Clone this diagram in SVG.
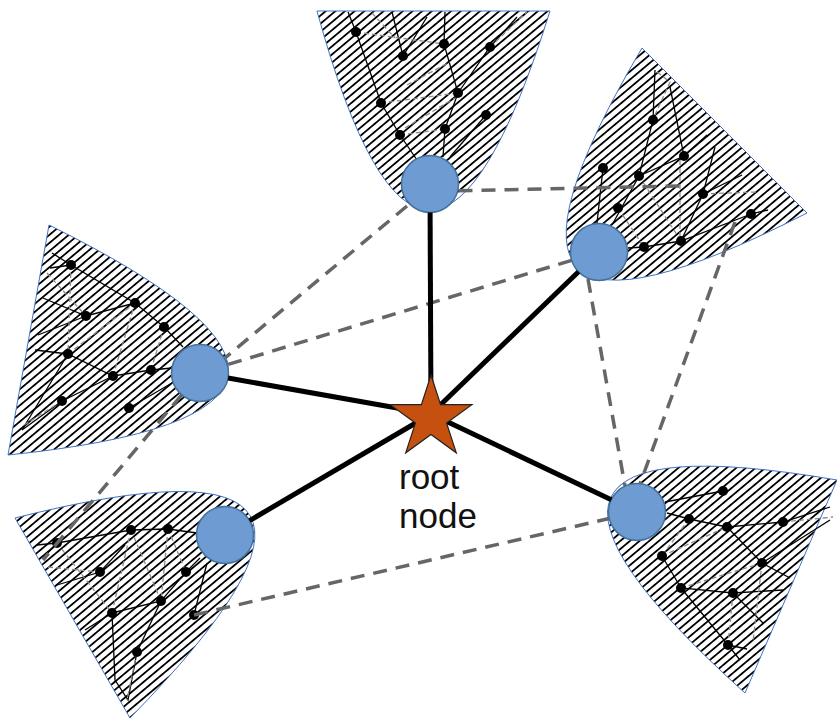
<svg xmlns="http://www.w3.org/2000/svg" width="837" height="720" viewBox="0 0 837 720">
<style>
.petal{fill:url(#hatch);stroke:#4472C4;stroke-width:1}
.ln{fill:none;stroke:#000;stroke-width:1.3}
.gd{fill:none;stroke:#8a8a8a;stroke-width:1.3;stroke-dasharray:5 3}
.dot{fill:#000}
.hub{fill:#6E9BD2;stroke:#41719C;stroke-width:1.5}
.spoke{stroke:#000;stroke-width:5;fill:none}
.link{stroke:#666;stroke-width:3.5;stroke-dasharray:14 9;fill:none}
.lbl{font-family:"Liberation Sans",Arial,sans-serif;font-size:35px;fill:#111}
</style>
<defs>
<pattern id="hatch" patternUnits="userSpaceOnUse" width="10" height="6.2" patternTransform="rotate(-40)">
<rect x="0" y="0" width="10" height="1.8" fill="#000"/>
</pattern>
</defs>

<g id="cluster-top">
<path class="petal" d="M317,11 Q426,409 550,11 Z"/>
<polyline class="ln" points="348,12 356,32 381,103 400,135 417,160"/>
<polyline class="ln" points="392,12 403,56 427,17"/>
<polyline class="ln" points="445,12 444,44 458,93 445,129 443,157"/>
<polyline class="ln" points="517,17 490,47 458,93"/>
<polyline class="ln" points="486,115 450,157"/>
<polyline class="gd" points="356,32 444,44"/>
<polyline class="gd" points="372,13 395,38"/>
<polyline class="gd" points="407,85 450,62"/>
<polyline class="gd" points="381,103 458,93"/>
<polyline class="gd" points="400,135 445,129"/>
<polyline class="gd" points="405,128 455,98"/>
<polyline class="gd" points="490,47 527,12"/>
<g class="dot"><circle cx="356" cy="32" r="5"/><circle cx="403" cy="56" r="5"/><circle cx="444" cy="44" r="5"/><circle cx="490" cy="47" r="5"/><circle cx="381" cy="103" r="5"/><circle cx="458" cy="93" r="5"/><circle cx="486" cy="115" r="5"/><circle cx="400" cy="135" r="5"/><circle cx="445" cy="129" r="5"/></g>
<circle class="hub" cx="430" cy="184" r="28.5"/>
</g>

<g id="cluster-right">
<path class="petal" d="M642,48 Q431,405 807,213 Z"/>
<polyline class="ln" points="655,70 653,120 639,176 612,225"/>
<polyline class="ln" points="670,87 684,156 639,176"/>
<polyline class="ln" points="684,156 707,135"/>
<polyline class="ln" points="603,168 597,223"/>
<polyline class="ln" points="715,147 703,194 742,175"/>
<polyline class="ln" points="703,194 681,241"/>
<polyline class="ln" points="760,204 751,214 768,210"/>
<polyline class="ln" points="751,214 681,241 644,247 628,248"/>
<polyline class="gd" points="657,72 670,82 655,115"/>
<polyline class="gd" points="618,208 644,247"/>
<polyline class="gd" points="639,176 681,241"/>
<polyline class="gd" points="680,160 680,240"/>
<polyline class="gd" points="703,194 757,192"/>
<g class="dot"><circle cx="653" cy="120" r="5"/><circle cx="684" cy="156" r="5"/><circle cx="603" cy="168" r="5"/><circle cx="639" cy="176" r="5"/><circle cx="703" cy="194" r="5"/><circle cx="618" cy="208" r="5"/><circle cx="751" cy="214" r="5"/><circle cx="644" cy="247" r="5"/><circle cx="681" cy="241" r="5"/></g>
<circle class="hub" cx="599" cy="252" r="28.5"/>
</g>

<g id="cluster-left">
<path class="petal" d="M49,225 Q427,412 8,455 Z"/>
<polyline class="ln" points="52,253 71,265 135,303 164,327 183,347"/>
<polyline class="ln" points="50,268 71,265"/>
<polyline class="ln" points="43,298 86,316 135,303"/>
<polyline class="ln" points="38,335 86,316"/>
<polyline class="ln" points="35,350 68,354 113,376 151,370 172,368"/>
<polyline class="ln" points="68,354 22,430 62,401 113,376"/>
<polyline class="ln" points="129,408 172,383"/>
<polyline class="gd" points="71,265 68,354"/>
<polyline class="gd" points="47,273 86,316"/>
<polyline class="gd" points="68,354 135,303"/>
<polyline class="gd" points="113,376 135,303"/>
<polyline class="gd" points="151,370 164,327"/>
<polyline class="gd" points="62,401 24,425"/>
<g class="dot"><circle cx="71" cy="265" r="5"/><circle cx="135" cy="303" r="5"/><circle cx="86" cy="316" r="5"/><circle cx="164" cy="327" r="5"/><circle cx="68" cy="354" r="5"/><circle cx="151" cy="370" r="5"/><circle cx="113" cy="376" r="5"/><circle cx="62" cy="401" r="5"/><circle cx="129" cy="408" r="5"/></g>
<circle class="hub" cx="200" cy="373" r="28.5"/>
</g>

<g id="cluster-bottom-left">
<path class="petal" d="M15,518 Q428,414 130,718 Z"/>
<polyline class="ln" points="37,545 57,543 131,530 168,529 197,533"/>
<polyline class="ln" points="57,543 43,558"/>
<polyline class="ln" points="57,585 100,572 125,545"/>
<polyline class="ln" points="112,613 161,601 186,572 200,558"/>
<polyline class="ln" points="112,613 85,630"/>
<polyline class="ln" points="137,652 128,700 115,680 112,613"/>
<polyline class="ln" points="161,601 137,652"/>
<polyline class="ln" points="194,615 207,563"/>
<polyline class="gd" points="57,543 112,613"/>
<polyline class="gd" points="48,567 100,572"/>
<polyline class="gd" points="131,530 112,613"/>
<polyline class="gd" points="131,530 161,601"/>
<polyline class="gd" points="168,529 161,601"/>
<polyline class="gd" points="168,529 186,572"/>
<polyline class="gd" points="137,652 127,700"/>
<g class="dot"><circle cx="57" cy="543" r="5"/><circle cx="131" cy="530" r="5"/><circle cx="168" cy="529" r="5"/><circle cx="100" cy="572" r="5"/><circle cx="186" cy="572" r="5"/><circle cx="161" cy="601" r="5"/><circle cx="112" cy="613" r="5"/><circle cx="194" cy="615" r="5"/><circle cx="137" cy="652" r="5"/></g>
<circle class="hub" cx="225" cy="535" r="28.5"/>
</g>

<g id="cluster-bottom-right">
<path class="petal" d="M837,480 Q430,410 745,693 Z"/>
<polyline class="ln" points="665,502 723,491"/>
<polyline class="ln" points="667,513 689,519 727,527 783,522 830,507"/>
<polyline class="ln" points="727,527 762,563 790,578"/>
<polyline class="ln" points="762,563 830,520"/>
<polyline class="ln" points="662,556 681,588 733,593 783,590"/>
<polyline class="ln" points="681,588 728,645 740,660"/>
<polyline class="ln" points="733,593 763,623"/>
<polyline class="ln" points="728,645 747,649"/>
<polyline class="gd" points="689,519 662,556"/>
<polyline class="gd" points="662,556 727,527"/>
<polyline class="gd" points="681,588 762,563"/>
<polyline class="gd" points="733,593 728,645"/>
<polyline class="gd" points="762,563 753,642"/>
<polyline class="gd" points="783,522 833,517"/>
<g class="dot"><circle cx="723" cy="491" r="5"/><circle cx="689" cy="519" r="5"/><circle cx="727" cy="527" r="5"/><circle cx="783" cy="522" r="5"/><circle cx="662" cy="556" r="5"/><circle cx="762" cy="563" r="5"/><circle cx="681" cy="588" r="5"/><circle cx="733" cy="593" r="5"/><circle cx="728" cy="645" r="5"/></g>
<circle class="hub" cx="637" cy="512" r="28.5"/>
</g>

<g id="connectors">
<line class="link" x1="458.5" y1="190.8" x2="682" y2="186"/>
<line class="link" x1="407" y1="206" x2="225" y2="358"/>
<line class="link" x1="571.7" y1="260.3" x2="227.3" y2="364.7"/>
<line class="link" x1="588" y1="279" x2="625" y2="486"/>
<line class="link" x1="735" y1="222" x2="640" y2="484"/>
<line class="link" x1="181.7" y1="394.8" x2="43" y2="560"/>
<line class="link" x1="194" y1="615" x2="609.2" y2="518.5"/>
<line class="spoke" x1="430.1" y1="212.5" x2="431" y2="414"/>
<line class="spoke" x1="578.5" y1="271.8" x2="431" y2="414"/>
<line class="spoke" x1="228.1" y1="378" x2="431" y2="414"/>
<line class="spoke" x1="249.6" y1="520.6" x2="431" y2="414"/>
<line class="spoke" x1="611.3" y1="499.8" x2="431" y2="414"/>
</g>

<g id="root-node">
<polygon points="431,375 440.6,404.7 471.9,404.7 446.6,423.1 456.3,452.8 431,434.4 405.7,452.8 415.4,423.1 390.1,404.7 421.4,404.7" fill="#C5500F" stroke="#222" stroke-width="1.2" stroke-linejoin="miter"/>
<text class="lbl" x="399" y="489">root</text>
<text class="lbl" x="399" y="528">node</text>
</g>
</svg>
